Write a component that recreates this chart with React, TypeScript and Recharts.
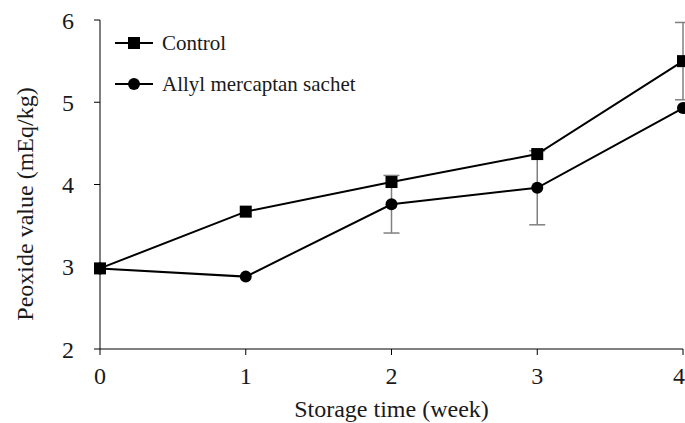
import { LineChart, Line, XAxis, YAxis, ErrorBar } from 'recharts';

const weeks = [0, 1, 2, 3, 4];
const controlValues = [2.98, 3.67, 4.03, 4.37, 5.5];
const controlErrors = [0, 0, 0, 0, 0.47];
const sachetValues = [2.98, 2.88, 3.76, 3.96, 4.93];
const sachetErrors = [0, 0, 0.35, 0.45, 0];
const yTicks = [2, 3, 4, 5, 6];

const data = weeks.map((w, i) => ({
  week: w,
  control: controlValues[i],
  controlErr: controlErrors[i],
  sachet: sachetValues[i],
  sachetErr: sachetErrors[i],
}));

const FONT = '"Liberation Serif", "Times New Roman", serif';
const TEXT = '#1a1a1a';

function SquareDot(props: any) {
  const { cx, cy } = props;
  if (cx == null || cy == null) return null;
  return <rect x={cx - 6} y={cy - 6} width={12} height={12} fill="#000" />;
}

function CircleDot(props: any) {
  const { cx, cy } = props;
  if (cx == null || cy == null) return null;
  return <circle cx={cx} cy={cy} r={6} fill="#000" />;
}

// legend drawn as an overlay so it doesn't push the plot area down
function LegendBox() {
  const rows = [
    { name: 'Control', shape: 'square' },
    { name: 'Allyl mercaptan sachet', shape: 'circle' },
  ];
  return (
    <svg width={300} height={100} style={{ position: 'absolute', left: 112, top: 29 }}>
      {rows.map((r, i) => {
        const y = 14 + i * 41;
        return (
          <g key={r.name}>
            <line x1={3} y1={y} x2={41} y2={y} stroke="#000" strokeWidth={2} />
            {r.shape === 'square' ? (
              <rect x={16} y={y - 6} width={12} height={12} fill="#000" />
            ) : (
              <circle cx={22} cy={y} r={6} fill="#000" />
            )}
            <text x={50} y={y} dy="0.35em" fontFamily={FONT} fontSize={21} fill={TEXT}>
              {r.name}
            </text>
          </g>
        );
      })}
    </svg>
  );
}

const YLabel = () => (
  <text
    x={25}
    y={204}
    transform="rotate(-90, 25, 204)"
    textAnchor="middle"
    dominantBaseline="central"
    fontFamily={FONT}
    fontSize={24}
    fill={TEXT}
  >
    Peoxide value (mEq/kg)
  </text>
);

export default function App() {
  return (
    <div style={{ position: 'relative', width: 685, height: 423, background: '#fff', overflow: 'hidden' }}>
      <style>{'body{margin:0}'}</style>
      <LineChart
        width={685}
        height={423}
        data={data}
        margin={{ top: 20, right: 2, bottom: 0, left: 0 }}
      >
        <XAxis
          dataKey="week"
          type="number"
          domain={[0, 4]}
          ticks={weeks}
          height={74}
          stroke="#000"
          tickSize={6}
          tickMargin={12}
          tick={{ fontFamily: FONT, fontSize: 24, fill: TEXT }}
          label={{
            value: 'Storage time (week)',
            position: 'insideBottom',
            offset: 6,
            fontFamily: FONT,
            fontSize: 24,
            fill: TEXT,
          }}
        />
        <YAxis
          domain={[2, 6]}
          ticks={yTicks}
          width={100}
          stroke="#000"
          tickSize={6}
          tickMargin={20}
          tick={{ fontFamily: FONT, fontSize: 24, fill: TEXT }}
          label={<YLabel />}
        />
        <Line
          dataKey="sachet"
          name="Allyl mercaptan sachet"
          stroke="#000"
          strokeWidth={2}
          dot={<CircleDot />}
          isAnimationActive={false}
        >
          <ErrorBar dataKey="sachetErr" direction="y" width={8} stroke="#808080" strokeWidth={1.5} />
        </Line>
        <Line
          dataKey="control"
          name="Control"
          stroke="#000"
          strokeWidth={2}
          dot={<SquareDot />}
          isAnimationActive={false}
        >
          <ErrorBar dataKey="controlErr" direction="y" width={8} stroke="#808080" strokeWidth={1.5} />
        </Line>
      </LineChart>
      <LegendBox />
    </div>
  );
}
